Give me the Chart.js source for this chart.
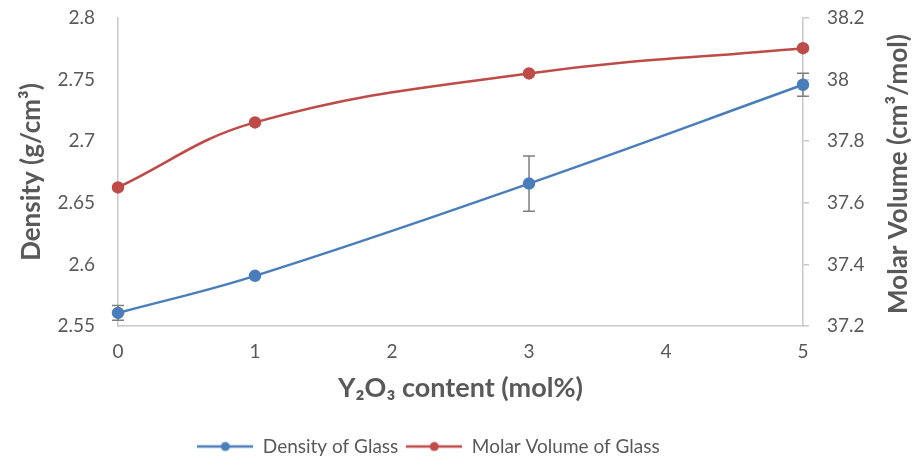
<!DOCTYPE html>
<html>
<head>
<meta charset="utf-8">
<script src="https://cdn.jsdelivr.net/npm/chart.js@4.4.0/dist/chart.umd.min.js"></script>
<style>
  html, body { margin: 0; padding: 0; background: #ffffff; }
  #wrap { width: 917px; height: 466px; }
</style>
</head>
<body>
<div id="wrap"><canvas id="c" width="917" height="466"></canvas></div>
<script>
// Y2O3 content (mol%)
const contents = [0, 1, 3, 5];
// Density of glass (g/cm3) and its error
const density = [2.5606, 2.5907, 2.6656, 2.7458];
const densityErr = [0.006, 0.001, 0.0224, 0.0094];
// Molar volume of glass (cm3/mol)
const molarVolume = [37.650, 37.861, 38.020, 38.102];

const densityRange = [2.55, 2.8, 0.05];
const volumeRange = [37.2, 38.2, 0.2];
const contentRange = [0, 5, 1];

const BLUE = '#4a7ebb';
const RED = '#be4b48';
const TEXT = '#595959';
const AXIS = '#c8c8c8';
const FONT = 'Lato, "Open Sans", sans-serif';

const fmt = v => String(+Number(v).toFixed(2));

// legend swatch: short line with a round marker in the middle
function legendMark(color) {
  const c = document.createElement('canvas');
  c.width = 56; c.height = 12;
  const g = c.getContext('2d');
  g.strokeStyle = color; g.lineWidth = 2.5;
  g.beginPath(); g.moveTo(0, 6); g.lineTo(56, 6); g.stroke();
  g.fillStyle = color;
  g.beginPath(); g.arc(28, 6, 4.5, 0, Math.PI * 2); g.fill();
  return c;
}
const marks = [legendMark(BLUE), legendMark(RED)];

// vertical error bars for the density series
const errorBars = {
  id: 'errorBars',
  beforeDatasetsDraw(chart) {
    const { ctx, scales } = chart;
    const xs = scales.x, ys = scales.y;
    ctx.save();
    ctx.strokeStyle = '#7f7f7f';
    ctx.lineWidth = 1.5;
    contents.forEach((c, i) => {
      const e = densityErr[i];
      if (!e) return;
      const x = xs.getPixelForValue(c);
      const y1 = ys.getPixelForValue(density[i] + e);
      const y2 = ys.getPixelForValue(density[i] - e);
      ctx.beginPath();
      ctx.moveTo(x, y1); ctx.lineTo(x, y2);
      ctx.moveTo(x - 6, y1); ctx.lineTo(x + 6, y1);
      ctx.moveTo(x - 6, y2); ctx.lineTo(x + 6, y2);
      ctx.stroke();
    });
    ctx.restore();
  }
};

// right-hand axis title, reading bottom to top
const rightTitle = {
  id: 'rightTitle',
  afterDraw(chart) {
    const { ctx, chartArea } = chart;
    const ys = chart.scales.y1;
    ctx.save();
    ctx.translate(ys.right - 18, (chartArea.top + chartArea.bottom) / 2 + 2);
    ctx.rotate(-Math.PI / 2);
    ctx.font = 'bold 26px ' + FONT;
    ctx.fillStyle = TEXT;
    ctx.textAlign = 'center';
    ctx.textBaseline = 'middle';
    ctx.fillText('Molar Volume (cm³/mol)', 0, 0);
    ctx.restore();
  }
};

// nudge the legend slightly left of centre
const legendShift = {
  id: 'legendShift',
  afterLayout(chart) {
    const lg = chart.legend;
    if (lg) { lg.left -= 30; lg.right -= 30; }
  }
};

// fixed side widths; keep tick padding from pushing the plot area inward
function fixWidth(w) {
  return s => { s.width = w; s.paddingTop = 8; s.paddingBottom = 8; };
}

new Chart(document.getElementById('c'), {
  type: 'line',
  data: {
    datasets: [
      {
        label: 'Density of Glass',
        data: contents.map((c, i) => ({ x: c, y: density[i] })),
        yAxisID: 'y',
        borderColor: BLUE,
        backgroundColor: BLUE,
        borderWidth: 2.5,
        pointRadius: 5,
        pointHoverRadius: 5,
        tension: 0.4,
        clip: false
      },
      {
        label: 'Molar Volume of Glass',
        data: contents.map((c, i) => ({ x: c, y: molarVolume[i] })),
        yAxisID: 'y1',
        borderColor: RED,
        backgroundColor: RED,
        borderWidth: 2.5,
        pointRadius: 5,
        pointHoverRadius: 5,
        tension: 0.4,
        clip: false
      }
    ]
  },
  options: {
    responsive: false,
    animation: false,
    devicePixelRatio: 1,
    layout: { padding: { top: 18, left: 0, right: 0, bottom: 0 } },
    plugins: {
      tooltip: { enabled: false },
      legend: {
        position: 'bottom',
        labels: {
          usePointStyle: true,
          pointStyleWidth: 56,
          boxHeight: 12,
          padding: 8,
          color: TEXT,
          font: { family: FONT, size: 19 },
          generateLabels(chart) {
            const items = Chart.defaults.plugins.legend.labels.generateLabels(chart);
            items.forEach((it, i) => { it.pointStyle = marks[i]; });
            return items;
          }
        }
      }
    },
    scales: {
      x: {
        type: 'linear',
        min: contentRange[0], max: contentRange[1],
        ticks: { stepSize: contentRange[2], padding: 14, color: TEXT, font: { family: FONT, size: 19 }, callback: fmt },
        grid: { display: false, drawTicks: false },
        border: { display: true, color: AXIS, width: 1.5 },
        title: { display: true, text: 'Y₂O₃ content (mol%)', color: TEXT, font: { family: FONT, size: 27, weight: 'bold' }, padding: { top: 0, bottom: 25 } },
        afterFit(s) { s.height = 103; }
      },
      y: {
        position: 'left',
        min: densityRange[0], max: densityRange[1],
        ticks: { stepSize: densityRange[2], padding: 23, color: TEXT, font: { family: FONT, size: 19 }, callback: fmt },
        grid: { display: false, drawTicks: false },
        border: { display: true, color: AXIS, width: 1.5 },
        title: { display: true, text: 'Density (g/cm³)', color: TEXT, font: { family: FONT, size: 26, weight: 'bold' }, padding: { top: 16, bottom: 0 } },
        afterFit: fixWidth(118)
      },
      y1: {
        position: 'right',
        min: volumeRange[0], max: volumeRange[1],
        ticks: { stepSize: volumeRange[2], padding: 18, color: TEXT, font: { family: FONT, size: 19 }, callback: fmt },
        grid: { display: true, drawOnChartArea: false, drawTicks: true, tickLength: 6, color: AXIS, lineWidth: 1.5 },
        border: { display: true, color: AXIS, width: 1.5 },
        afterFit: fixWidth(114)
      }
    }
  },
  plugins: [errorBars, rightTitle, legendShift]
});
</script>
</body>
</html>
